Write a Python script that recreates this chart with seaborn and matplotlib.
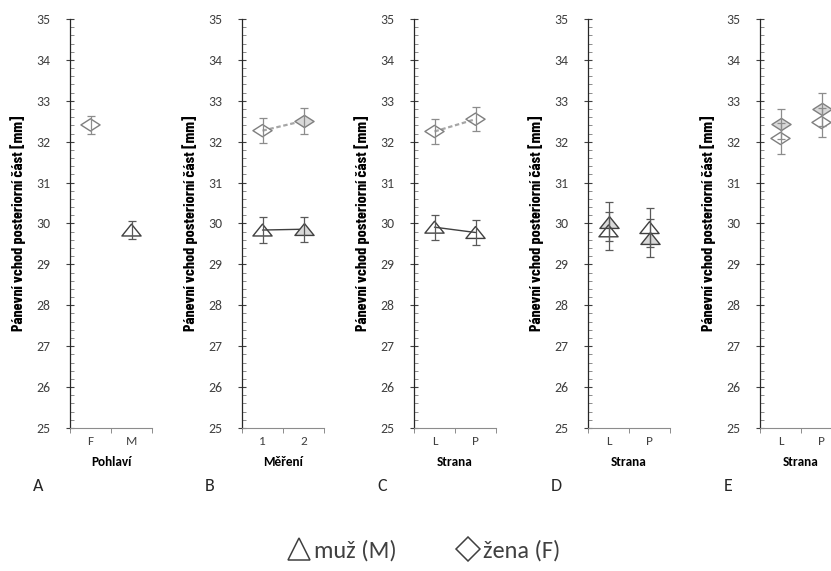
import numpy as np
import pandas as pd
import seaborn as sns
import matplotlib.pyplot as plt
from matplotlib.path import Path
from matplotlib.lines import Line2D
from matplotlib.ticker import MultipleLocator

# Data (ctene z obrazku, prumer +- chyba)
ylabel = "Pánevní vchod posteriorní část [mm]"
panel_letters = ["A", "B", "C", "D", "E"]
xlabels = ["Pohlaví", "Měření", "Strana", "Strana", "Strana"]

a_cats = ["F", "M"]
a_zena_at = ["F"]
a_zena = [32.41]
a_zena_sd = [0.21]
a_muz_at = ["M"]
a_muz = [29.84]
a_muz_sd = [0.22]

b_cats = ["1", "2"]
b_muz = [29.84, 29.86]
b_muz_sd = [0.32, 0.31]
b_zena = [32.27, 32.51]
b_zena_sd = [0.30, 0.31]

c_cats = ["L", "P"]
c_muz = [29.91, 29.78]
c_muz_sd = [0.31, 0.31]
c_zena = [32.25, 32.55]
c_zena_sd = [0.30, 0.30]

d_cats = ["L", "P"]
d_muz_1 = [29.82, 29.90]
d_muz_1_sd = [0.47, 0.47]
d_muz_2 = [30.04, 29.65]
d_muz_2_sd = [0.48, 0.47]

e_cats = ["L", "P"]
e_zena_1 = [32.08, 32.47]
e_zena_1_sd = [0.37, 0.36]
e_zena_2 = [32.43, 32.79]
e_zena_2_sd = [0.37, 0.41]

legend_labels = ["muž (M)", "žena (F)"]

# Styl
sns.set_style("ticks")
plt.rcParams['font.family'] = ['Carlito', 'DejaVu Sans']
LABEL_FONT = ['Barlow Condensed', 'Roboto Condensed', 'Asap Condensed', 'DejaVu Sans']

HOLLOW = "none"
GREY = "#d9d9d9"
tri = Path([(-1, -0.62), (0, 0.62), (1, -0.62), (-1, -0.62)],
           [Path.MOVETO, Path.LINETO, Path.LINETO, Path.CLOSEPOLY])
dia = Path([(-1, 0), (0, 0.64), (1, 0), (0, -0.64), (-1, 0)],
           [Path.MOVETO, Path.LINETO, Path.LINETO, Path.LINETO, Path.CLOSEPOLY])
style = {
    "muz": dict(marker=tri, edge="#404040", err="#595959", line="#404040", ls="-", lw=1.0),
    "zena": dict(marker=dia, edge="#7f7f7f", err="#8c8c8c", line="#a6a6a6", ls=(0, (2, 1.2)), lw=1.6),
}


def draw(ax, cats, at, means, sds, sex, fills, connect=False):
    st = style[sex]
    xs = [cats.index(c) for c in at]
    df = pd.DataFrame({"x": xs, "y": means})
    if connect:
        sns.lineplot(data=df, x="x", y="y", ax=ax, color=st["line"],
                     linestyle=st["ls"], linewidth=st["lw"], zorder=1)
    for x, y, f in zip(xs, means, fills):
        ax.scatter([x], [y], marker=st["marker"], s=190, facecolors=f,
                   edgecolors=st["edge"], linewidths=1.0, zorder=2)
    ax.errorbar(xs, means, yerr=sds, fmt="none", ecolor=st["err"],
                elinewidth=0.9, capsize=3, capthick=0.9, zorder=3)


fig = plt.figure(figsize=(8.31, 5.71), dpi=100)
W, H = 831, 571
lefts = [70, 242, 414, 588, 760]
panel_cats = [a_cats, b_cats, c_cats, d_cats, e_cats]

axes = []
for i, left in enumerate(lefts):
    ax = fig.add_axes([left / W, 1 - 428 / H, 82 / W, 409 / H])
    axes.append(ax)

# A
draw(axes[0], a_cats, a_zena_at, a_zena, a_zena_sd, "zena", [HOLLOW])
draw(axes[0], a_cats, a_muz_at, a_muz, a_muz_sd, "muz", [HOLLOW])
# B
draw(axes[1], b_cats, b_cats, b_zena, b_zena_sd, "zena", [HOLLOW, GREY], connect=True)
draw(axes[1], b_cats, b_cats, b_muz, b_muz_sd, "muz", [HOLLOW, GREY], connect=True)
# C
draw(axes[2], c_cats, c_cats, c_zena, c_zena_sd, "zena", [HOLLOW, HOLLOW], connect=True)
draw(axes[2], c_cats, c_cats, c_muz, c_muz_sd, "muz", [HOLLOW, HOLLOW], connect=True)
# D
draw(axes[3], d_cats, d_cats, d_muz_2, d_muz_2_sd, "muz", [GREY, GREY])
draw(axes[3], d_cats, d_cats, d_muz_1, d_muz_1_sd, "muz", [HOLLOW, HOLLOW])
# E
draw(axes[4], e_cats, e_cats, e_zena_2, e_zena_2_sd, "zena", [GREY, GREY])
draw(axes[4], e_cats, e_cats, e_zena_1, e_zena_1_sd, "zena", [HOLLOW, HOLLOW])

for i, ax in enumerate(axes):
    cats = panel_cats[i]
    ax.set_ylim(25, 35)
    ax.set_xlim(-0.5, len(cats) - 0.5)
    ax.yaxis.set_major_locator(MultipleLocator(1))
    ax.yaxis.set_minor_locator(MultipleLocator(0.2))
    ax.set_xticks(range(len(cats)), cats)
    ax.set_xticks(np.arange(-0.5, len(cats), 1.0), minor=True)
    ax.tick_params(axis="y", which="major", direction="inout", length=6, width=0.8,
                   color="#404040", labelsize=10, labelcolor="#404040", pad=11)
    ax.tick_params(axis="y", which="minor", direction="in", length=3, width=0.7,
                   color="#8c8c8c")
    ax.tick_params(axis="x", which="major", length=0, pad=6, labelsize=9.5,
                   labelcolor="#404040")
    ax.tick_params(axis="x", which="minor", direction="out", length=3.5, width=0.7,
                   color="#8c8c8c")
    sns.despine(ax=ax)
    ax.spines["left"].set_color("#262626")
    ax.spines["left"].set_linewidth(0.9)
    ax.spines["bottom"].set_color("#8c8c8c")
    ax.spines["bottom"].set_linewidth(0.8)
    ax.set_facecolor("none")

    ax.set_ylabel(ylabel, family=LABEL_FONT, fontweight="bold", fontsize=11.5,
                  color="black")
    ax.yaxis.set_label_coords(-52 / 82, 0.5)
    ax.yaxis.label.set_va("center")
    ax.set_xlabel(xlabels[i], fontweight="bold", fontsize=9.5, color="black")
    ax.xaxis.set_label_coords(0.5, -34 / 409)
    ax.xaxis.label.set_va("center")

    fig.text((lefts[i] - 32) / W, 1 - 486 / H, panel_letters[i],
             fontsize=13, color="#262626", ha="center", va="center")

# legenda dole
handles = [
    Line2D([], [], marker="^", ls="", ms=16, mfc="none", mec="#404040", mew=1.1),
    Line2D([], [], marker="D", ls="", ms=12, mfc="none", mec="#404040", mew=1.1),
]
fig.legend(handles=handles, labels=legend_labels, loc="center",
           bbox_to_anchor=(423 / W, 1 - 551 / H), ncol=2, frameon=False,
           fontsize=17.5, handletextpad=0.05, columnspacing=2.4, handlelength=1.1,
           labelcolor="#404040")

fig.savefig("out.png", dpi=100)
